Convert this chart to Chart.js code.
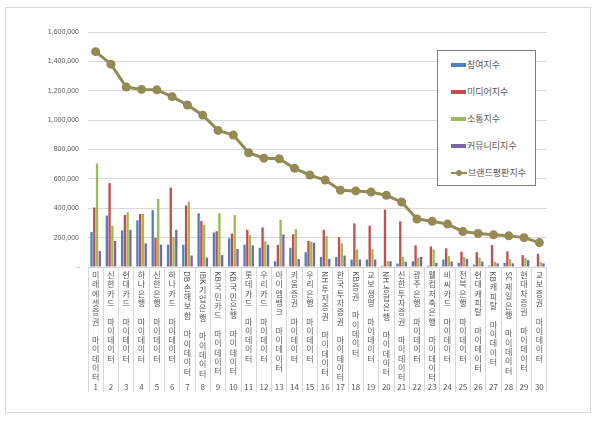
<!DOCTYPE html>
<html>
<head>
<meta charset="utf-8">
<script src="https://cdn.jsdelivr.net/npm/chart.js@4/dist/chart.umd.min.js"></script>
<style>
  body { margin: 0; background: #fff; }
  #wrap { position: relative; width: 600px; height: 426px; }
  #frame { position: absolute; left: 5px; top: 7px; width: 584px; height: 404px; border: 1px solid #d9d9d9; }
  #chart { position: absolute; left: 0; top: 0; }
  #legend { position: absolute; left: 437px; top: 50px; width: 97px; height: 134px; border: 1px solid #7f7f7f; background: #fff;
            font-family: 'Noto Sans CJK KR', 'Noto Sans', sans-serif; font-size: 9px; color: #595959; }
  .item { position: absolute; left: 13px; height: 12px; line-height: 12px; white-space: nowrap; }
  .sw { display: inline-block; width: 15px; height: 4px; vertical-align: middle; margin-right: 1px; position: relative; top: -1px; }
  .ln { display: inline-block; width: 16px; height: 2px; vertical-align: middle; margin-right: 1px; position: relative; top: -1px; background: #948A54; }
  .ln i { position: absolute; left: 5px; top: -2px; width: 6px; height: 6px; border-radius: 50%; background: #948A54; }
</style>
</head>
<body>
<div id="wrap">
  <div id="frame"></div>
  <canvas id="chart" width="600" height="426"></canvas>
  <div id="legend"></div>
</div>
<script>
// categories (brand names, rank order)
const names = [
  '미래에셋증권 마이데이터', '신한카드 마이데이터', '현대카드 마이데이터', '하나은행 마이데이터', '신한은행 마이데이터',
  '하나카드 마이데이터', 'DB손해보험 마이데이터', 'IBK기업은행 마이데이터', 'KB국민카드 마이데이터', 'KB국민은행 마이데이터',
  '롯데카드 마이데이터', '우리카드 마이데이터', '아이엠뱅크 마이데이터', '키움증권 마이데이터', '우리은행 마이데이터',
  'NH투자증권 마이데이터', '한국투자증권 마이데이터', 'KB증권 마이데이터', '교보생명 마이데이터', 'NH농협은행 마이데이터',
  '신한투자증권 마이데이터', '광주은행 마이데이터', '웰컴저축은행 마이데이터', '비씨카드 마이데이터', '전북은행 마이데이터',
  '현대캐피탈 마이데이터', 'KB캐피탈 마이데이터', 'SC제일은행 마이데이터', '현대차증권 마이데이터', '교보증권 마이데이터'
];
const ranks = ['1','2','3','4','5','6','7','8','9','10','11','12','13','14','15',
               '16','17','18','19','20','21','22','23','24','25','26','27','28','29','30'];

// series values
const participation = [239000, 350000, 249000, 318000, 387000, 152000, 152000, 366000, 235000, 196000,
                       152000, 131000, 39000, 131000, 101000, 69000, 69000, 51000, 51000, 9000,
                       23000, 39000, 9000, 51000, 28000, 16000, 9000, 28000, 5000, 5000];
const media = [405000, 571000, 354000, 361000, 200000, 541000, 419000, 313000, 244000, 228000,
               253000, 269000, 150000, 223000, 177000, 253000, 203000, 297000, 281000, 391000,
               311000, 147000, 140000, 127000, 104000, 101000, 150000, 106000, 81000, 90000];
const communication = [704000, 281000, 373000, 361000, 463000, 205000, 444000, 288000, 366000, 354000,
                       216000, 175000, 322000, 258000, 173000, 212000, 161000, 120000, 120000, 39000,
                       71000, 64000, 120000, 74000, 69000, 64000, 35000, 53000, 60000, 32000];
const community = [108000, 177000, 253000, 161000, 152000, 253000, 78000, 64000, 81000, 122000,
                   147000, 152000, 221000, 55000, 165000, 55000, 78000, 51000, 51000, 39000,
                   35000, 69000, 28000, 37000, 55000, 37000, 25000, 25000, 46000, 25000];
const brandIndex = [1466000, 1381000, 1225000, 1209000, 1206000, 1160000, 1103000, 1034000, 930000, 898000,
                    778000, 741000, 737000, 672000, 626000, 592000, 523000, 518000, 511000, 488000,
                    442000, 327000, 311000, 292000, 242000, 228000, 219000, 212000, 200000, 166000];

const seriesNames = ['참여지수', '미디어지수', '소통지수', '커뮤니티지수', '브랜드평판지수'];
const colors = ['#4F81BD', '#C0504D', '#9BBB59', '#8064A2', '#948A54'];

const font = "'Noto Sans CJK KR', 'Noto Sans', sans-serif";

// stacked (upright) category labels, latin prefixes turned sideways like the original, rank underneath
const verticalLabels = {
  id: 'verticalLabels',
  afterDraw(chart) {
    const ctx = chart.ctx;
    const xs = chart.scales.x;
    const step = 9.3;
    ctx.save();
    ctx.fillStyle = '#595959';
    ctx.textAlign = 'center';
    ctx.textBaseline = 'middle';
    ctx.font = '8px ' + font;
    names.forEach((name, i) => {
      const x = xs.getPixelForValue(i);
      let y = xs.top + 8;
      const [head, tail] = name.split(' ');
      const parts = [...head.match(/[A-Z]+|./g), ' ', ...tail.split('')];
      parts.forEach(p => {
        if (/^[A-Z]+$/.test(p)) {
          const w = ctx.measureText(p).width;
          ctx.save();
          ctx.translate(x, y - step / 2 + w / 2 + 1);
          ctx.rotate(Math.PI / 2);
          ctx.fillText(p, 0, 0);
          ctx.restore();
          y += Math.max(step, w + 2);
        } else {
          ctx.fillText(p, x, y);
          y += step;
        }
      });
      ctx.fillText(ranks[i], x, xs.top + 120);
    });
    ctx.restore();
  }
};

new Chart(document.getElementById('chart'), {
  type: 'bar',
  data: {
    labels: names,
    datasets: [
      { type: 'line', label: seriesNames[4], data: brandIndex, borderColor: colors[4], backgroundColor: colors[4],
        borderWidth: 3, pointRadius: 4.5, pointBackgroundColor: colors[4], pointBorderWidth: 0, order: 0 },
      { label: seriesNames[0], data: participation, backgroundColor: colors[0], order: 1 },
      { label: seriesNames[1], data: media, backgroundColor: colors[1], order: 1 },
      { label: seriesNames[2], data: communication, backgroundColor: colors[2], order: 1 },
      { label: seriesNames[3], data: community, backgroundColor: colors[3], order: 1 }
    ]
  },
  options: {
    responsive: false,
    animation: false,
    layout: { padding: { top: 32, right: 53, bottom: 30, left: 0 } },
    datasets: { bar: { categoryPercentage: 0.72, barPercentage: 0.85 } },
    plugins: { legend: { display: false }, tooltip: { enabled: false } },
    scales: {
      x: {
        grid: { offset: true, drawOnChartArea: false, tickLength: 125, color: '#d9d9d9' },
        border: { display: false },
        ticks: { display: false },
        afterFit: s => { s.height = 129; }
      },
      y: {
        min: 0, max: 1600000,
        grid: { color: '#d9d9d9', drawTicks: false },
        border: { display: false },
        ticks: { stepSize: 200000, padding: 9, color: '#595959', font: { family: 'Liberation Sans', size: 7 },
                 callback: v => v === 0 ? '-' : v.toLocaleString('en-US') },
        afterFit: s => { s.width = 88; }
      }
    }
  },
  plugins: [verticalLabels]
});

// legend box
const legend = document.getElementById('legend');
seriesNames.forEach((name, i) => {
  const item = document.createElement('div');
  item.className = 'item';
  item.style.top = (8 + i * 27) + 'px';
  const mark = i < 4 ? '<span class="sw" style="background:' + colors[i] + '"></span>' : '<span class="ln"><i></i></span>';
  item.innerHTML = mark + name;
  legend.appendChild(item);
});
</script>
</body>
</html>
